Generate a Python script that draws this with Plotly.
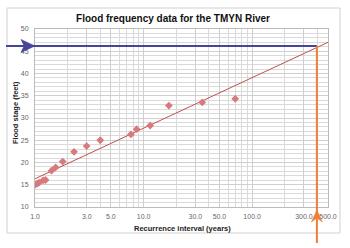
import numpy as np
import plotly.graph_objects as go

# ---- data ----
recurrence_years = [1.0, 1.05, 1.09, 1.19, 1.25, 1.42, 1.55, 1.80, 2.29, 2.99,
                    3.99, 7.65, 8.64, 11.5, 17.1, 34.7, 69.9]
flood_stage_ft = [15.0, 15.24, 15.46, 16.0, 16.07, 18.16, 18.9, 20.2, 22.4, 23.7,
                  25.0, 26.3, 27.5, 28.3, 32.8, 33.5, 34.3]
x_tick_vals = [1, 3, 5, 10, 30, 50, 100, 300, 500]
x_tick_text = ["1.0", "3.0", "5.0", "10.0", "30.0", "50.0", "100.0", "300.0", "500.0"]
x_minor_vals = [2, 4, 6, 7, 8, 9, 20, 40, 60, 70, 80, 90, 200, 400]
y_tick_vals = [10, 15, 20, 25, 30, 35, 40, 45, 50]
target_stage = 46.2      # blue horizontal line
target_interval = 395    # orange vertical line

# ---- layout geometry ----
W, H = 350, 248
L, R, T, B = 35, 22, 29, 41
X_MIN, X_MAX = 1, 500
Y_MIN, Y_MAX = 10, 50

def px_x(p):
    return (p - L) / (W - L - R)

def px_y(p):
    return (H - B - p) / (H - T - B)

def dx(v):
    return np.log10(v / X_MIN) / np.log10(X_MAX / X_MIN)

def dy(v):
    return (v - Y_MIN) / (Y_MAX - Y_MIN)

# logarithmic trendline (least squares on log10 x)
lx = np.log10(recurrence_years)
slope, intercept = np.polyfit(lx, flood_stage_ft, 1)
trend_x = np.logspace(0, np.log10(X_MAX), 50)
trend_y = intercept + slope * np.log10(trend_x)

fig = go.Figure()
fig.add_trace(go.Scatter(x=trend_x, y=trend_y, mode="lines",
                         line=dict(color="#c0504d", width=1), hoverinfo="skip",
                         showlegend=False))
fig.add_trace(go.Scatter(x=recurrence_years, y=flood_stage_ft, mode="markers",
                         marker=dict(symbol="diamond", size=6, color="#d9797c"),
                         showlegend=False))

BLUE = "#46459a"
ORANGE = "#f07f35"
bx = dx(target_interval)
by = dy(target_stage)
shapes = [
    # chart area border
    dict(type="rect", xref="paper", yref="paper",
         x0=px_x(7), x1=px_x(340), y0=px_y(233), y1=px_y(8),
         line=dict(color="#d0d0d0", width=1), layer="below"),
    # blue horizontal line
    dict(type="line", xref="paper", yref="paper",
         x0=px_x(6), x1=bx, y0=by, y1=by, line=dict(color=BLUE, width=2)),
    # orange vertical line
    dict(type="line", xref="paper", yref="paper",
         x0=bx, x1=bx, y0=by, y1=px_y(243), line=dict(color=ORANGE, width=2)),
]
# blue arrowhead (pointing right, tip at plot left edge)
tipx, tipy = 0.0, by
bl = px_x(21)
hh = 6.5 / (H - T - B)
notch = px_x(24)
shapes.append(dict(type="path", xref="paper", yref="paper",
                   path=f"M {tipx} {tipy} L {bl} {tipy + hh} L {notch} {tipy} L {bl} {tipy - hh} Z",
                   fillcolor=BLUE, line=dict(color=BLUE, width=0.5)))
# orange arrowhead (pointing up)
otip = px_y(210)
obase = px_y(222)
onotch = px_y(218)
hw = 5.5 / (W - L - R)
shapes.append(dict(type="path", xref="paper", yref="paper",
                   path=f"M {bx} {otip} L {bx - hw} {obase} L {bx} {onotch} L {bx + hw} {obase} Z",
                   fillcolor=ORANGE, line=dict(color=ORANGE, width=0.5)))

FONT = "Liberation Sans, Arial, sans-serif"
annotations = [
    dict(text="Recurrence interval (years)", xref="paper", yref="paper",
         x=px_x(182), y=px_y(228), showarrow=False, xanchor="center", yanchor="middle",
         font=dict(family=FONT, size=7.5, color="#222", weight="bold")),
    dict(text="Flood stage (feet)", xref="paper", yref="paper",
         x=px_x(15), y=px_y(113), showarrow=False, xanchor="center", yanchor="middle",
         textangle=-90, font=dict(family=FONT, size=7.5, color="#222", weight="bold")),
]

grid = "#dadada"
fig.update_layout(
    width=W, height=H,
    margin=dict(l=L, r=R, t=T, b=B),
    paper_bgcolor="white", plot_bgcolor="white",
    title=dict(text="Flood frequency data for the TMYN River", x=173 / W, xanchor="center",
               y=1 - 18 / H, yanchor="middle",
               font=dict(family=FONT, size=10, color="#111", weight="bold")),
    shapes=shapes, annotations=annotations,
    xaxis=dict(type="log", range=[np.log10(X_MIN), np.log10(X_MAX)],
               tickmode="array", tickvals=x_tick_vals, ticktext=x_tick_text,
               showgrid=True, gridcolor="#cfcfcf", gridwidth=1,
               minor=dict(tickmode="array", tickvals=x_minor_vals, showgrid=True,
                          gridcolor=grid, gridwidth=1),
               showline=True, linecolor="#bbbbbb", mirror=True, zeroline=False,
               tickfont=dict(family=FONT, size=7, color="#666"), ticks="",
               ticklabelstandoff=3),
    yaxis=dict(range=[Y_MIN, Y_MAX], tickmode="array", tickvals=y_tick_vals,
               showgrid=True, gridcolor="#cfcfcf", gridwidth=1,
               minor=dict(dtick=1, showgrid=True, gridcolor=grid, gridwidth=1),
               showline=True, linecolor="#bbbbbb", mirror=True, zeroline=False,
               tickfont=dict(family=FONT, size=7, color="#666"), ticks="",
               ticklabelstandoff=4),
)

fig.write_html("out.html")
